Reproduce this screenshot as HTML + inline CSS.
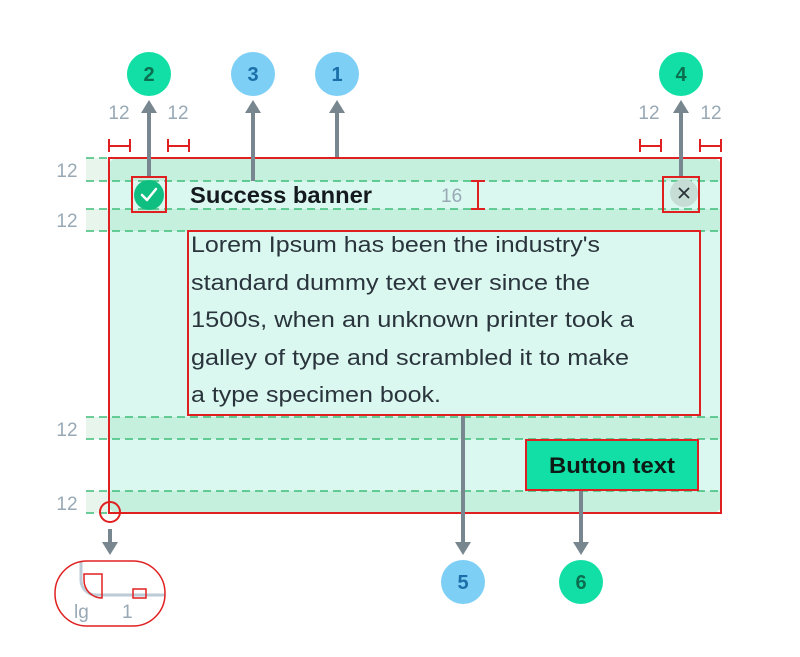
<!DOCTYPE html>
<html><head><meta charset="utf-8"><style>
html,body{margin:0;padding:0;background:#fff;}
svg{display:block;}
text{font-family:"Liberation Sans",sans-serif;}
</style></head><body>
<svg width="800" height="657" viewBox="0 0 800 657" xmlns="http://www.w3.org/2000/svg">
<rect x="86" y="158" width="23" height="23" fill="#e8f5ec"/>
<rect x="86" y="209" width="23" height="22" fill="#e8f5ec"/>
<rect x="86" y="417" width="23" height="22" fill="#e8f5ec"/>
<rect x="86" y="491" width="23" height="22" fill="#e8f5ec"/>
<rect x="109" y="158" width="612" height="355" rx="8" fill="#daf8ef"/>
<path d="M109,181 V166 a8,8 0 0 1 8,-8 H713 a8,8 0 0 1 8,8 V181 Z" fill="#c5f0de"/>
<rect x="109" y="209" width="612" height="22" fill="#c5f0de"/>
<rect x="109" y="417" width="612" height="22" fill="#c5f0de"/>
<path d="M109,491 H721 V505 a8,8 0 0 1 -8,8 H117 a8,8 0 0 1 -8,-8 Z" fill="#c5f0de"/>
<g stroke="#3dbd78" stroke-width="1.5" stroke-dasharray="8,5">
<line x1="86" y1="158" x2="721" y2="158"/>
<line x1="86" y1="181" x2="721" y2="181"/>
<line x1="86" y1="209" x2="721" y2="209"/>
<line x1="86" y1="231" x2="721" y2="231"/>
<line x1="86" y1="417" x2="721" y2="417"/>
<line x1="86" y1="439" x2="721" y2="439"/>
<line x1="86" y1="491" x2="721" y2="491"/>
<line x1="86" y1="513" x2="721" y2="513"/>
</g>
<rect x="109" y="158" width="612" height="355" fill="none" stroke="#e02020" stroke-width="2"/>
<circle cx="149" cy="195" r="15" fill="#0fbf82"/>
<path d="M142,195 L147,200 L156,189" fill="none" stroke="#fff" stroke-width="2.5" stroke-linecap="round" stroke-linejoin="round"/>
<rect x="132" y="177" width="34" height="35" fill="none" stroke="#e02020" stroke-width="2"/>
<text x="190" y="203" font-size="23" font-weight="bold" fill="#141a1f" textLength="182" lengthAdjust="spacingAndGlyphs">Success banner</text>
<text x="441" y="202" font-size="19" fill="#98a9b5">16</text>
<g stroke="#e02020" stroke-width="2"><line x1="478" y1="181" x2="478" y2="209"/><line x1="471" y1="181" x2="485" y2="181"/><line x1="471" y1="209" x2="485" y2="209"/></g>
<circle cx="684" cy="193" r="14" fill="#c6ddd6"/>
<path d="M679,188 L689,198 M689,188 L679,198" stroke="#2a3238" stroke-width="1.8"/>
<rect x="663" y="177" width="36" height="35" fill="none" stroke="#e02020" stroke-width="2"/>
<rect x="188" y="231" width="512" height="184" fill="none" stroke="#e02020" stroke-width="2"/>
<g font-size="22" fill="#2a343c">
<text x="191" y="252" textLength="409" lengthAdjust="spacingAndGlyphs">Lorem Ipsum has been the industry's</text>
<text x="191" y="290" textLength="399" lengthAdjust="spacingAndGlyphs">standard dummy text ever since the</text>
<text x="191" y="327" textLength="443" lengthAdjust="spacingAndGlyphs">1500s, when an unknown printer took a</text>
<text x="191" y="365" textLength="438" lengthAdjust="spacingAndGlyphs">galley of type and scrambled it to make</text>
<text x="191" y="402" textLength="250" lengthAdjust="spacingAndGlyphs">a type specimen book.</text>
</g>
<rect x="526" y="440" width="172" height="50" fill="#11dfa5" stroke="#e02020" stroke-width="2"/>
<text x="612" y="473" font-size="22" font-weight="bold" fill="#0d1a16" text-anchor="middle" textLength="126" lengthAdjust="spacingAndGlyphs">Button text</text>
<g stroke="#78868f" stroke-width="4" fill="none">
<line x1="149" y1="176" x2="149" y2="111"/>
<line x1="253" y1="181" x2="253" y2="111"/>
<line x1="337" y1="157" x2="337" y2="111"/>
<line x1="681" y1="176" x2="681" y2="111"/>
<line x1="463" y1="416" x2="463" y2="544"/>
<line x1="581" y1="491" x2="581" y2="544"/>
<line x1="110" y1="529" x2="110" y2="544"/>
</g>
<g fill="#78868f">
<polygon points="149,100 157,113 141,113"/>
<polygon points="253,100 261,113 245,113"/>
<polygon points="337,100 345,113 329,113"/>
<polygon points="681,100 689,113 673,113"/>
<polygon points="463,555 471,542 455,542"/>
<polygon points="581,555 589,542 573,542"/>
<polygon points="110,555 118,542 102,542"/>
</g>
<g font-size="20" font-weight="bold" text-anchor="middle">
<circle cx="149" cy="74" r="22" fill="#11dfa5"/><text x="149" y="81" fill="#0b6e4f">2</text>
<circle cx="253" cy="74" r="22" fill="#7ecff5"/><text x="253" y="81" fill="#1a6fa8">3</text>
<circle cx="337" cy="74" r="22" fill="#7ecff5"/><text x="337" y="81" fill="#1a6fa8">1</text>
<circle cx="681" cy="74" r="22" fill="#11dfa5"/><text x="681" y="81" fill="#0b6e4f">4</text>
<circle cx="463" cy="582" r="22" fill="#7ecff5"/><text x="463" y="589" fill="#1a6fa8">5</text>
<circle cx="581" cy="582" r="22" fill="#11dfa5"/><text x="581" y="589" fill="#0b6e4f">6</text>
</g>
<g font-size="19" fill="#98a9b5" text-anchor="middle">
<text x="119" y="119">12</text><text x="178" y="119">12</text>
<text x="649" y="119">12</text><text x="711" y="119">12</text>
<text x="67" y="177">12</text><text x="67" y="227">12</text>
<text x="67" y="436">12</text><text x="67" y="510">12</text>
</g>
<g stroke="#e02020" stroke-width="2" fill="none">
<path d="M109,139 V152 M109,146 H130 M130,139 V152"/>
<path d="M168,139 V152 M168,146 H189 M189,139 V152"/>
<path d="M640,139 V152 M640,146 H661 M661,139 V152"/>
<path d="M700,139 V152 M700,146 H721 M721,139 V152"/>
<circle cx="110" cy="512" r="10"/>
</g>
<path d="M81,562 V580 a15,15 0 0 0 15,15 H165" fill="none" stroke="#bccbd6" stroke-width="3"/>
<path d="M84,574 H102 V598 A18,18 0 0 1 84,580 Z" fill="none" stroke="#e02020" stroke-width="1.5"/>
<rect x="133" y="589" width="13" height="9" fill="none" stroke="#e02020" stroke-width="1.5"/>
<text x="74" y="618" font-size="19" fill="#98a9b5">lg</text>
<text x="122" y="618" font-size="19" fill="#98a9b5">1</text>
<rect x="55" y="561" width="110" height="65" rx="32" fill="none" stroke="#e02020" stroke-width="1.5"/>
</svg>
</body></html>
